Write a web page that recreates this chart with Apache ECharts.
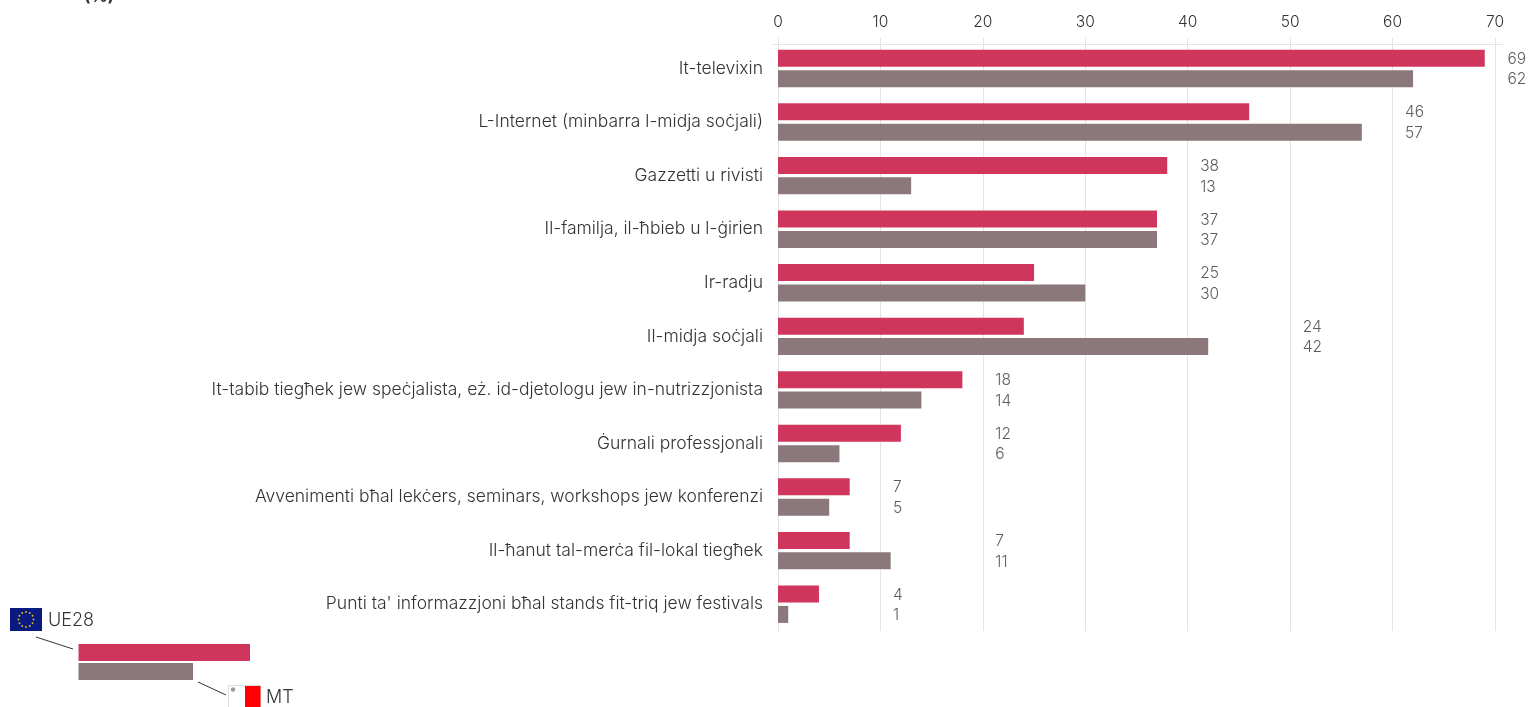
<!DOCTYPE html>
<html>
<head>
<meta charset="utf-8">
<style>
html, body { margin: 0; padding: 0; background: #fff; }
#chart { width: 1529px; height: 707px; }
</style>
<script src="https://cdn.jsdelivr.net/npm/echarts@6/dist/echarts.min.js"></script>
</head>
<body>
<div id="chart"></div>
<script>
var categories = [
    "It-televixin",
    "L-Internet (minbarra l-midja soċjali)",
    "Gazzetti u rivisti",
    "Il-familja, il-ħbieb u l-ġirien",
    "Ir-radju",
    "Il-midja soċjali",
    "It-tabib tiegħek jew speċjalista, eż. id-djetologu jew in-nutrizzjonista",
    "Ġurnali professjonali",
    "Avvenimenti bħal lekċers, seminars, workshops jew konferenzi",
    "Il-ħanut tal-merċa fil-lokal tiegħek",
    "Punti ta' informazzjoni bħal stands fit-triq jew festivals"
];
var ue28 = [69, 46, 38, 37, 25, 24, 18, 12, 7, 7, 4];
var mt = [62, 57, 13, 37, 30, 42, 14, 6, 5, 11, 1];

var fontName = "Inter";
var textColor = "#333333";
var red = "#d0365b";
var grey = "#8a787b";

var chartDom = document.getElementById("chart");
var myChart = echarts.init(chartDom);

// the two numbers sit together, just past the next ten on the axis
var labelPoints = categories.map(function (c, i) {
    return {
        value: [(Math.floor(Math.max(ue28[i], mt[i]) / 10) + 1) * 10, i],
        pair: ue28[i] + "\n" + mt[i]
    };
});

// ring of stars on the EU flag
var flagStars = [];
for (var s = 0; s < 12; s++) {
    var a = s * Math.PI / 6;
    flagStars.push({
        type: "circle",
        shape: { cx: 26 + 7.5 * Math.sin(a), cy: 619.5 - 7.5 * Math.cos(a), r: 0.9 },
        style: { fill: "#e6c21c" }
    });
}

var option = {
    animation: false,
    textStyle: { fontFamily: fontName },
    grid: { left: 778, right: 34, top: 41.7, height: 589.3 },
    xAxis: {
        type: "value",
        position: "top",
        offset: -2.3,
        min: 0,
        max: 70,
        interval: 10,
        axisLine: { show: true, lineStyle: { color: "#e4e4e4", width: 1 } },
        axisTick: { show: true, length: 6, lineStyle: { color: "#e4e4e4" } },
        axisLabel: { color: textColor, fontSize: 15.5, margin: 14, fontFamily: fontName, fontWeight: 300 },
        splitLine: { show: true, lineStyle: { color: "#e4e4e4", width: 1 } }
    },
    yAxis: {
        type: "category",
        inverse: true,
        data: categories,
        axisLine: { show: false },
        axisTick: { show: false },
        axisLabel: {
            color: textColor,
            fontSize: 17.5,
            margin: 15,
            fontFamily: fontName,
            fontWeight: 300,
            padding: [7, 0, 0, 0]
        }
    },
    series: [
        {
            name: "UE28",
            type: "bar",
            data: ue28,
            barWidth: 17,
            barGap: "20%",
            itemStyle: { color: red }
        },
        {
            name: "MT",
            type: "bar",
            data: mt,
            barWidth: 17,
            barGap: "20%",
            itemStyle: { color: grey }
        },
        {
            type: "scatter",
            data: labelPoints,
            symbolSize: 1,
            clip: false,
            silent: true,
            itemStyle: { color: "rgba(0,0,0,0)" },
            label: {
                show: true,
                position: "right",
                distance: 12,
                offset: [0, 1],
                align: "left",
                color: textColor,
                fontSize: 15.5,
                lineHeight: 20.5,
                fontWeight: 300,
                fontFamily: fontName,
                formatter: function (params) {
                    return params.data.pair;
                }
            }
        }
    ],
    graphic: {
        elements: [
            // axis rule runs a little past both ends
            { type: "line", shape: { x1: 772, y1: 44.5, x2: 1503, y2: 44.5 }, style: { stroke: "#e4e4e4", lineWidth: 1 } },
            // clipped unit label at the top edge
            { type: "text", left: 84, top: -12, style: { text: "(%)", font: "bold 17px " + fontName, fill: textColor } },
            // legend key
            { type: "rect", shape: { x: 78.5, y: 644, width: 171.5, height: 17 }, style: { fill: red } },
            { type: "rect", shape: { x: 78.5, y: 663, width: 114.5, height: 17 }, style: { fill: grey } },
            { type: "line", shape: { x1: 36, y1: 637, x2: 73, y2: 649 }, style: { stroke: "#333", lineWidth: 1 } },
            { type: "line", shape: { x1: 198, y1: 682, x2: 226, y2: 695 }, style: { stroke: "#333", lineWidth: 1 } },
            { type: "rect", shape: { x: 10, y: 608, width: 32, height: 23 }, style: { fill: "#0b1a80" } },
            { type: "group", children: flagStars },
            { type: "text", left: 48, top: 612, style: { text: "UE28", font: "300 18px " + fontName, fill: textColor } },
            { type: "rect", shape: { x: 228.5, y: 685.5, width: 32, height: 24 }, style: { fill: "#ffffff", stroke: "#e2d8d8", lineWidth: 1 } },
            { type: "rect", shape: { x: 245, y: 686, width: 15.5, height: 23 }, style: { fill: "#ff0000" } },
            { type: "circle", shape: { cx: 233, cy: 689.5, r: 2.2 }, style: { fill: "#9a9a9a" } },
            { type: "text", left: 266, top: 689, style: { text: "MT", font: "300 18px " + fontName, fill: textColor } }
        ]
    }
};

option && myChart.setOption(option);
</script>
</body>
</html>
